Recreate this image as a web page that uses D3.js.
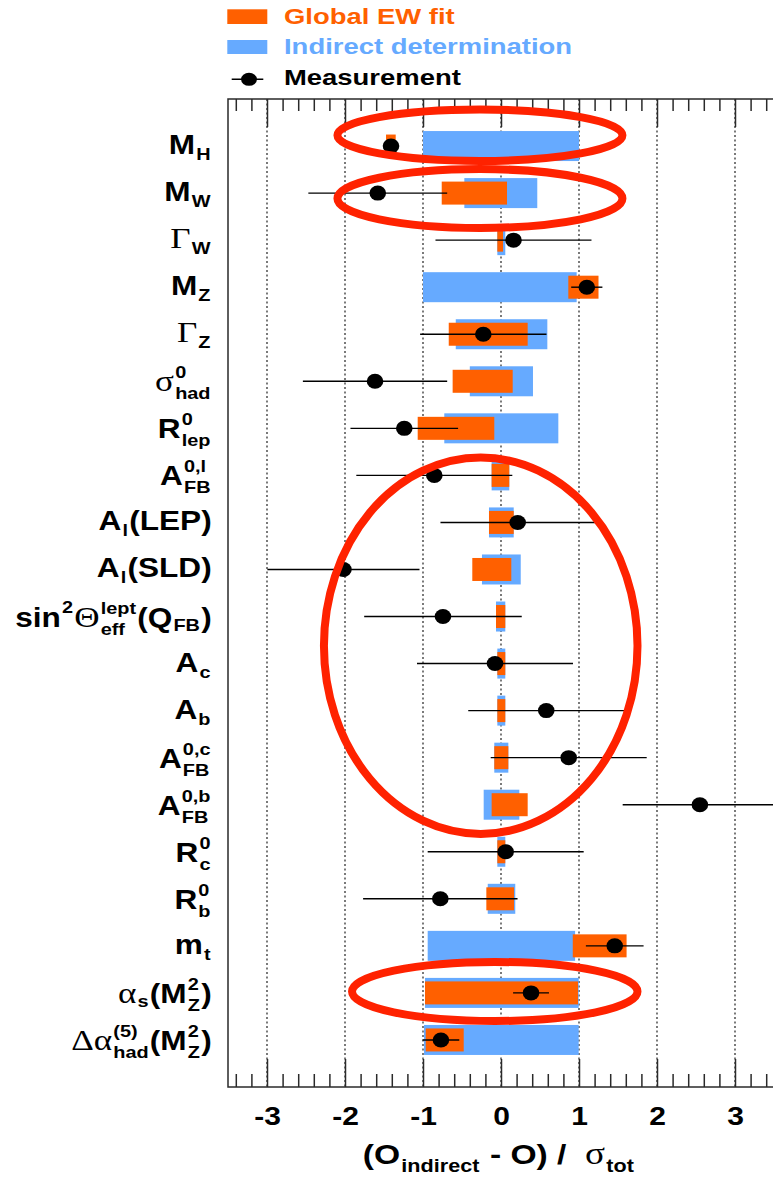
<!DOCTYPE html>
<html><head><meta charset="utf-8">
<script src="https://cdn.jsdelivr.net/npm/d3@7"></script>
<style>
html,body{margin:0;padding:0;background:#fff;}
svg{display:block;}
</style></head><body>
<svg id="chart" width="773" height="1178"></svg>
<script>
// ---------------- data ----------------
const categories = ["M_H","M_W","Γ_W","M_Z","Γ_Z","σ0_had","R0_lep","A_FB^0,l","A_l(LEP)","A_l(SLD)",
  "sin2θ_eff^lept(Q_FB)","A_c","A_b","A_FB^0,c","A_FB^0,b","R0_c","R0_b","m_t","α_s(M_Z^2)","Δα_had^(5)(M_Z^2)"];
// Indirect determination (blue band), low / high edge
const indirectLo = [-1.00,-0.47,-0.047,-1.00,-0.58,-0.40,-0.727,-0.12,-0.154,-0.244,-0.064,-0.047,-0.047,-0.086,-0.222,-0.047,-0.17,-0.94,-0.974,-0.987];
const indirectHi = [ 1.00, 0.465,0.055, 0.97, 0.594,0.41, 0.735, 0.106,0.163, 0.253, 0.055, 0.055, 0.055, 0.094, 0.235, 0.055, 0.183,0.95, 0.996, 0.996];
// Global EW fit (orange band), low / high edge
const fitLo = [-1.474,-0.76,-0.047,0.863,-0.67,-0.62,-1.068,-0.12,-0.154,-0.368,-0.064,-0.047,-0.047,-0.086,-0.12,-0.047,-0.188,0.92,-0.974,-0.965];
const fitHi = [-1.35, 0.077,0.026,1.25, 0.342,0.15,-0.086, 0.106,0.163, 0.132, 0.055, 0.055, 0.055, 0.094, 0.342,0.055, 0.167,1.61, 0.987,-0.478];
// Measurement: central value and error
const measValue = [-1.41,-1.58,0.16,1.10,-0.227,-1.615,-1.24,-0.855,0.214,-2.02,-0.744,-0.077,0.58,0.868,2.55,0.06,-0.778,1.458,0.385,-0.77];
const measError = [0.04,0.89,1.0,0.2,0.81,0.925,0.69,1.0,0.99,0.975,1.01,1.0,1.0,1.0,0.99,1.0,0.99,0.37,0.23,0.235];
const tickValues = [-3,-2,-1,0,1,2,3];
const legendLabels = ["Global EW fit","Indirect determination","Measurement"];
// Row label typesetting (main text / sub / sup)
const labelParts = [
  [{t:"M"},{sub:"H"}],
  [{t:"M"},{sub:"W"}],
  [{t:"Γ",serif:true},{sub:"W"}],
  [{t:"M"},{sub:"Z"}],
  [{t:"Γ",serif:true},{sub:"Z"}],
  [{t:"σ",serif:true},{sub:"had",sup:"0"}],
  [{t:"R"},{sub:"lep",sup:"0"}],
  [{t:"A"},{sub:"FB",sup:"0,l"}],
  [{t:"A"},{sub:"l"},{t:"(LEP)"}],
  [{t:"A"},{sub:"l"},{t:"(SLD)"}],
  [{t:"sin"},{sup:"2"},{t:"Θ",serif:true},{sub:"eff",sup:"lept"},{t:"(Q"},{sub:"FB"},{t:")"}],
  [{t:"A"},{sub:"c"}],
  [{t:"A"},{sub:"b"}],
  [{t:"A"},{sub:"FB",sup:"0,c"}],
  [{t:"A"},{sub:"FB",sup:"0,b"}],
  [{t:"R"},{sub:"c",sup:"0"}],
  [{t:"R"},{sub:"b",sup:"0"}],
  [{t:"m"},{sub:"t"}],
  [{t:"α",serif:true},{sub:"s"},{t:"(M"},{sub:"Z",sup:"2"},{t:")"}],
  [{t:"Δα",serif:true},{sub:"had",sup:"(5)"},{t:"(M"},{sub:"Z",sup:"2"},{t:")"}]
];
const titleParts = [{t:"(O"},{sub:"indirect"},{t:"\u00a0-\u00a0O)\u00a0/\u00a0\u00a0"},{t:"σ",serif:true},{sub:"tot"}];
// Hand-drawn annotation ellipses (value units / row units)
const annCx = [-0.27,-0.27,-0.26,-0.08];
const annCy = [-0.23,1.115,10.62,17.97];
const annRx = [1.827,1.827,2.01,1.83];
const annRy = [0.546,0.625,4.0,0.627];

// ---------------- drawing ----------------
const ORANGE = "#ff6000", BLUE = "#66aaff", RED = "#ff2200", FRAME = "#2a2a2a";
const SANS = "'Liberation Sans',Arial,Helvetica,sans-serif";
const SERIF = "'Liberation Serif','DejaVu Serif',serif";
const svg = d3.select("#chart");
const pTop = 99, pBottom = 1087, pLeft = 228, pRight = 774;
const x = d3.scaleLinear().domain([-3.5,3.5]).range([pLeft,pRight]);
const y = d3.scalePoint().domain(categories).range([pTop,pBottom]).padding(1);
const rowY = d3.scaleLinear().domain([0,categories.length-1]).range([y(categories[0]), y(categories[categories.length-1])]);
const data = categories.map((c,i)=>({c,i,iLo:indirectLo[i],iHi:indirectHi[i],fLo:fitLo[i],fHi:fitHi[i],m:measValue[i],e:measError[i]}));

svg.append("defs").append("clipPath").attr("id","clip").append("rect")
  .attr("x",pLeft).attr("y",pTop).attr("width",pRight-pLeft).attr("height",pBottom-pTop);

// grid
svg.append("g").selectAll("line").data(tickValues).join("line")
  .attr("x1",d=>x(d)).attr("x2",d=>x(d)).attr("y1",pTop).attr("y2",pBottom)
  .attr("stroke","#222").attr("stroke-width",1.2).attr("stroke-dasharray","2,2.5");

const plot = svg.append("g").attr("clip-path","url(#clip)");
// indirect bars
plot.append("g").selectAll("rect").data(data).join("rect")
  .attr("x",d=>x(d.iLo)).attr("width",d=>x(d.iHi)-x(d.iLo))
  .attr("y",d=>y(d.c)-15).attr("height",30).attr("fill",BLUE);
// fit bars
plot.append("g").selectAll("rect").data(data).join("rect")
  .attr("x",d=>x(d.fLo)).attr("width",d=>x(d.fHi)-x(d.fLo))
  .attr("y",d=>y(d.c)-11.5).attr("height",23).attr("fill",ORANGE);
// measurement error bars
plot.append("g").selectAll("line").data(data).join("line")
  .attr("x1",d=>x(d.m-d.e)).attr("x2",d=>x(d.m+d.e))
  .attr("y1",d=>y(d.c)).attr("y2",d=>y(d.c)).attr("stroke","#000").attr("stroke-width",1.4);
plot.append("g").selectAll("ellipse").data(data).join("ellipse")
  .attr("cx",d=>x(d.m)).attr("cy",d=>y(d.c)).attr("rx",8.3).attr("ry",7.5).attr("fill","#000");

// axes ticks
const minor = d3.range(-34,35,2).map(v=>v/10).filter(v=>Math.abs(v-Math.round(v))>1e-6);
function clean(g){ g.select(".domain").remove(); g.selectAll(".tick line").attr("stroke",FRAME).attr("stroke-width",1.5); }
svg.append("g").attr("transform",`translate(0,${pTop})`).call(d3.axisBottom(x).tickValues(minor).tickSize(12).tickFormat("")).call(clean);
svg.append("g").attr("transform",`translate(0,${pTop})`).call(d3.axisBottom(x).tickValues(tickValues).tickSize(28).tickFormat("")).call(clean);
svg.append("g").attr("transform",`translate(0,${pBottom})`).call(d3.axisTop(x).tickValues(minor).tickSize(13).tickFormat("")).call(clean);
svg.append("g").attr("transform",`translate(0,${pBottom})`).call(d3.axisTop(x).tickValues(tickValues).tickSize(28).tickFormat("")).call(clean);
const lab = svg.append("g").attr("transform",`translate(0,${pBottom})`)
  .call(d3.axisBottom(x).tickValues(tickValues).tickSize(0).tickFormat(d=>String(d).replace("−","-")));
lab.select(".domain").remove();
lab.selectAll("text").attr("y",38).attr("dy",0).attr("fill","#000")
  .style("font-size","25px").style("font-weight","bold").style("font-family",SANS)
  .attr("transform","scale(1.2,1)");

// frame
svg.append("rect").attr("x",pLeft).attr("y",pTop).attr("width",pRight-pLeft).attr("height",pBottom-pTop)
  .attr("fill","none").attr("stroke",FRAME).attr("stroke-width",1.5);

// typesetting helper
function styled(t, size, serif){
  return t.style("font-family", serif ? SERIF : SANS).style("font-weight", serif ? "normal" : "bold").style("font-size", size+"px");
}
function typeset(g, parts, o){
  const stacked = parts.some(p=>p.sub && p.sup);
  const mainDy = stacked ? o.mainS : o.main;
  let cx = 0;
  parts.forEach(p=>{
    if (p.t){
      const t = styled(g.append("text").attr("x",cx).attr("y",mainDy).text(p.t), p.serif ? o.fs+3 : o.fs, p.serif);
      cx += t.node().getComputedTextLength();
    } else {
      let w = 0;
      if (p.sup){ const t=styled(g.append("text").attr("x",cx+1).attr("y",(p.sub? o.supS : o.sup)).text(p.sup), o.ss, false); w=Math.max(w,t.node().getComputedTextLength()); }
      if (p.sub){ const t=styled(g.append("text").attr("x",cx+1).attr("y",(p.sup? o.subS : o.sub)).text(p.sub), o.ss, false); w=Math.max(w,t.node().getComputedTextLength()); }
      cx += w + 2;
    }
  });
  return cx;
}

// row labels
const labOpts = {fs:27, ss:17, main:8, mainS:10, sub:14, sup:-4, subS:18, supS:-3};
data.forEach(d=>{
  const g = svg.append("g").attr("transform",`translate(211.7,${y(d.c)}) scale(1.17,1)`);
  const inner = g.append("g");
  const w = typeset(inner, labelParts[d.i], labOpts);
  inner.attr("transform",`translate(${-w},0)`);
});

// axis title
{
  const g = svg.append("g");
  const inner = g.append("g");
  const w = typeset(inner, titleParts, {fs:28, ss:18, main:0, mainS:0, sub:8, sup:-10, subS:8, supS:-10});
  const s = 1.2;
  g.attr("transform",`translate(${499 - w*s/2},1164) scale(${s},1)`);
}

// legend
svg.append("rect").attr("x",227.3).attr("y",9.3).attr("width",40).attr("height",14.7).attr("fill",ORANGE);
svg.append("rect").attr("x",227.3).attr("y",40).attr("width",40).attr("height",14).attr("fill",BLUE);
svg.append("line").attr("x1",231.7).attr("x2",263.3).attr("y1",79.3).attr("y2",79.3).attr("stroke","#000").attr("stroke-width",1.4);
svg.append("ellipse").attr("cx",249).attr("cy",79.3).attr("rx",8).attr("ry",6.5).attr("fill","#000");
const legColors = [ORANGE, BLUE, "#000"];
const legBase = [23.5, 54, 84.5];
legendLabels.forEach((s,i)=>{
  styled(svg.append("text").attr("transform",`translate(284,${legBase[i]}) scale(1.22,1)`)
    .attr("fill",legColors[i]).text(s), 22.5, false);
});

// annotation ellipses
svg.append("g").selectAll("ellipse").data(annCx.map((v,i)=>i)).join("ellipse")
  .attr("cx",i=>x(annCx[i])).attr("cy",i=>rowY(annCy[i]))
  .attr("rx",i=>x(annRx[i])-x(0)).attr("ry",i=>rowY(annRy[i])-rowY(0))
  .attr("fill","none").attr("stroke",RED).attr("stroke-width",8);
</script>
</body></html>
